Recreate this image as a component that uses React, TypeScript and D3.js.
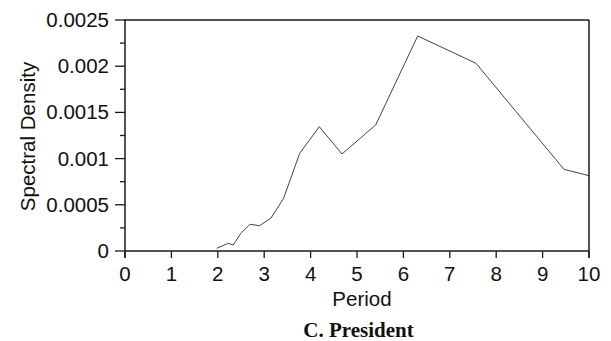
import React from "react";
import * as d3 from "d3";

const periods = [1.976, 2.226, 2.334, 2.489, 2.694, 2.899, 3.147, 3.416, 3.765, 4.188, 4.677, 5.403, 6.308, 7.565, 9.461, 10.0];
const densities = [0.000029, 0.000083, 0.000065, 0.000187, 0.00029, 0.000273, 0.000357, 0.000568, 0.001057, 0.001345, 0.00105, 0.001364, 0.002327, 0.002031, 0.000884, 0.000815];
const xTicks = [0, 1, 2, 3, 4, 5, 6, 7, 8, 9, 10];
const yTicks = [0, 0.0005, 0.001, 0.0015, 0.002, 0.0025];
const yTickLabels = ["0", "0.0005", "0.001", "0.0015", "0.002", "0.0025"];
const yMinorTicks = [0.00025, 0.00075, 0.00125, 0.00175, 0.00225];

const W = 611, H = 341;
const left = 125, right = 589, top = 20, bottom = 251;

export default function App() {
  const x = d3.scaleLinear().domain([0, 10]).range([left, right]);
  const y = d3.scaleLinear().domain([0, 0.0025]).range([bottom, top]);
  const line = d3.line<number>().x((_, i) => x(periods[i])).y((d) => y(d));
  const font = "'Liberation Sans', Arial, Helvetica, sans-serif";
  const axisColor = "#1a1a1a";
  const fs = 20.5;
  return (
    <svg width={W} height={H} style={{ position: "absolute", left: 0, top: 0, background: "#fff" }}>
      <rect x={0} y={0} width={W} height={H} fill="#fff" />
      <path d={line(densities) || ""} fill="none" stroke="#444" strokeWidth={1} />
      <line x1={left} x2={right} y1={top} y2={top} stroke={axisColor} strokeWidth={1.3} />
      <line x1={right} x2={right} y1={top} y2={bottom + 7} stroke={axisColor} strokeWidth={1.5} />
      <line x1={left} x2={left} y1={top - 1} y2={bottom + 7} stroke={axisColor} strokeWidth={1.5} />
      <line x1={left} x2={right} y1={bottom} y2={bottom} stroke={axisColor} strokeWidth={1.5} />
      {yTicks.map((t, i) => (
        <g key={"y" + i}>
          <line x1={left - 10} x2={left} y1={y(t)} y2={y(t)} stroke={axisColor} strokeWidth={1.3} />
          <text x={left - 16} y={y(t) + 7} textAnchor="end" fontFamily={font} fontSize={fs} fill="#111">
            {yTickLabels[i]}
          </text>
        </g>
      ))}
      {yMinorTicks.map((t, i) => (
        <line key={"m" + i} x1={left - 5} x2={left} y1={y(t)} y2={y(t)} stroke={axisColor} strokeWidth={1.3} />
      ))}
      {xTicks.map((t, i) => (
        <g key={"x" + i}>
          <line x1={x(t)} x2={x(t)} y1={bottom} y2={bottom + 7} stroke={axisColor} strokeWidth={1.3} />
          <text x={x(t)} y={bottom + 30} textAnchor="middle" fontFamily={font} fontSize={fs} fill="#111">
            {t}
          </text>
        </g>
      ))}
      <text x={362} y={306} textAnchor="middle" fontFamily={font} fontSize={fs} fill="#111">
        Period
      </text>
      <text
        transform={`translate(35, ${(top + bottom) / 2 + 1}) rotate(-90)`}
        textAnchor="middle"
        fontFamily={font}
        fontSize={fs}
        fill="#111"
      >
        Spectral Density
      </text>
      <text x={358.5} y={337} textAnchor="middle" fontFamily="'Liberation Serif', 'Times New Roman', serif" fontWeight="bold" fontSize={21} fill="#111">
        C. President
      </text>
    </svg>
  );
}
